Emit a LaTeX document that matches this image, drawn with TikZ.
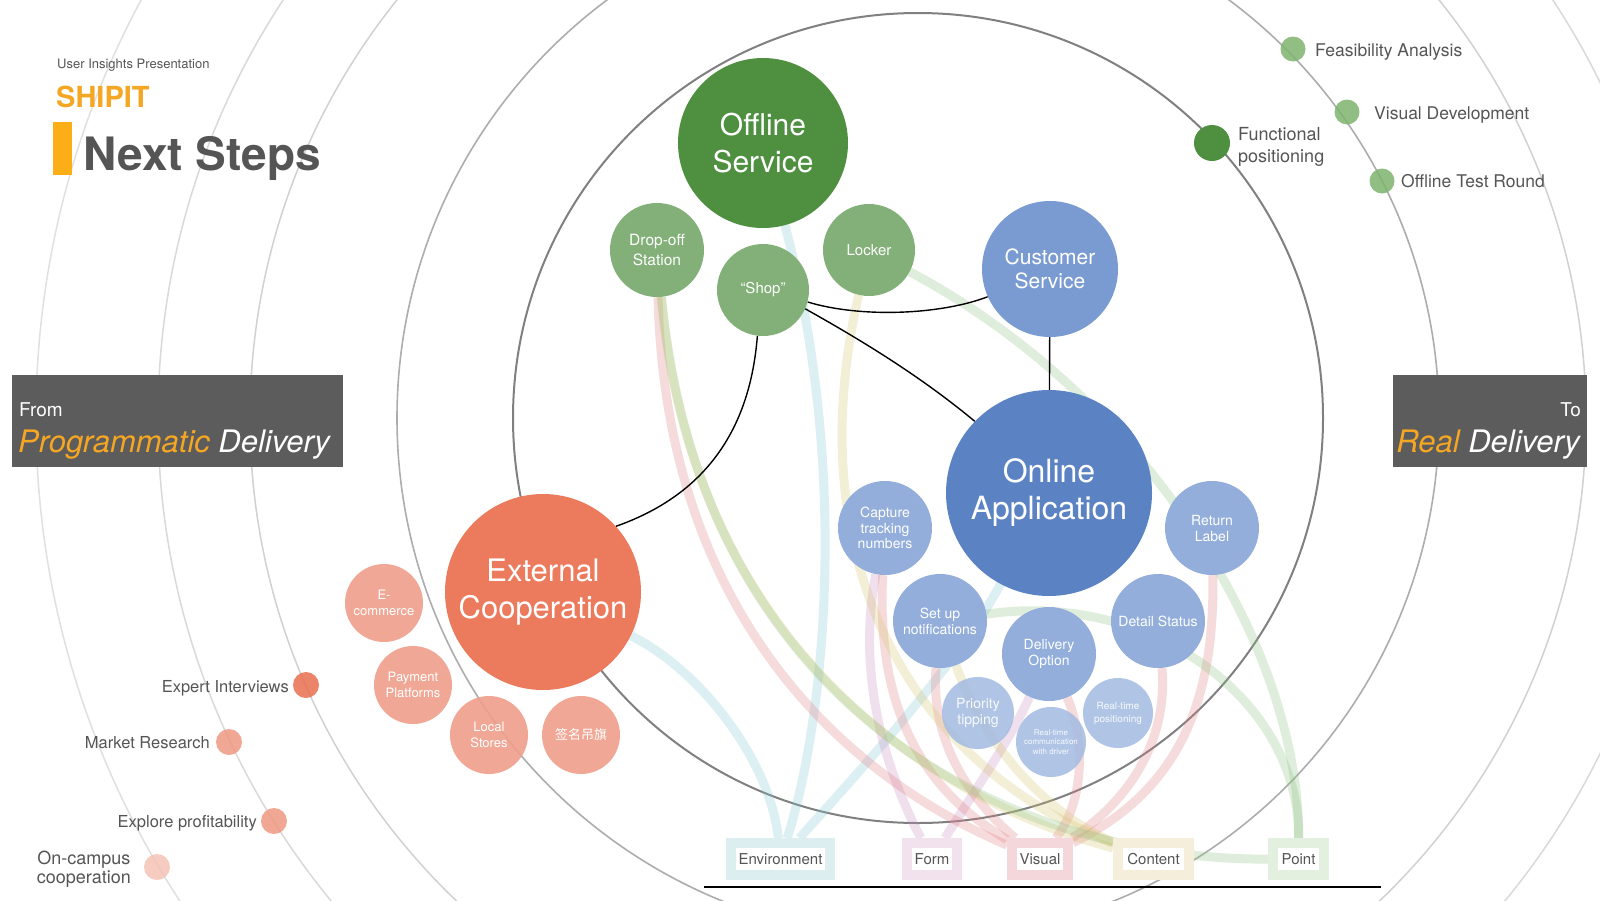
\documentclass[tikz,border=0pt]{standalone}
\usepackage{fontspec}
\setmainfont{TeX Gyre Heros}
\newfontfamily\cjkfont{Noto Sans CJK SC}
\newcommand{\fsz}[2]{\fontsize{#1pt}{#2pt}\selectfont}
\definecolor{dgreen}{HTML}{4E8F40}
\definecolor{lgreen}{HTML}{83B079}
\definecolor{dotgreen}{HTML}{7DB36E}
\definecolor{csblue}{HTML}{7A9BD2}
\definecolor{oablue}{HTML}{5B83C4}
\definecolor{sblue}{HTML}{93AEDB}
\definecolor{xblue}{HTML}{A3BBE2}
\definecolor{ecred}{HTML}{EC7A5C}
\definecolor{sred}{HTML}{F09E8A}
\definecolor{dotred}{HTML}{E96F4F}
\definecolor{dotsalmon}{HTML}{EE9882}
\definecolor{dotpale}{HTML}{F5C3B5}
\definecolor{orng}{HTML}{F5A623}
\definecolor{barorng}{HTML}{FBAE17}
\definecolor{boxgray}{HTML}{5C5C5C}
\definecolor{txtgray}{HTML}{555555}
\definecolor{ribC}{HTML}{7EC4CF}
\definecolor{ribF}{HTML}{C98BC0}
\definecolor{ribR}{HTML}{E07A80}
\definecolor{ribY}{HTML}{D6C46A}
\definecolor{ribG}{HTML}{8CC07E}
\definecolor{envc}{HTML}{DCEEF0}
\definecolor{formc}{HTML}{F2E2EE}
\definecolor{visc}{HTML}{F4D7DA}
\definecolor{contc}{HTML}{F4EEDA}
\definecolor{pointc}{HTML}{E3F0E0}
\pgfdeclarelayer{back0}
\pgfdeclarelayer{bg}
\pgfsetlayers{back0,bg,main}
\tikzset{
  bub/.style={circle, inner sep=0pt, text=white, align=center},
  rib/.style={line width=9pt, draw opacity=0.27},
  conn/.style={line width=1.4pt, draw=black},
  lab/.style={rectangle, line width=10pt, fill=white, inner sep=0pt, minimum height=32pt, text=txtgray, font=\fsz{15}{18}},
  dotn/.style={circle, inner sep=0pt, fill opacity=0.85},
  txt/.style={inner sep=0pt, text=txtgray},
}
\begin{document}
\begin{tikzpicture}[x=1pt,y=-1pt]
\clip (0,0) rectangle (1600,900);
\coordinate (ctr) at (918,418);
% ---------- nodes ----------
\node[bub, fill=dgreen, minimum size=170pt, font=\fsz{30}{37}] (offline) at (763,143) {Offline\\Service};
\node[bub, fill=lgreen, minimum size=94pt, font=\fsz{15.5}{19.5}] (dropoff) at (657,250) {Drop-off\\Station};
\node[bub, fill=lgreen, minimum size=92pt, font=\fsz{15}{18}] (shop) at (763,290) {“Shop”};
\node[bub, fill=lgreen, minimum size=92pt, font=\fsz{15}{18}] (locker) at (869,250) {Locker};
\node[bub, fill=csblue, minimum size=136pt, font=\fsz{21}{24.5}] (cs) at (1050,269) {Customer\\Service};
\node[bub, fill=oablue, minimum size=206pt, font=\fsz{32}{37}] (online) at (1049,493) {Online\\Application};
\node[bub, fill=ecred, minimum size=196pt, font=\fsz{31}{36.5}] (ecoop) at (543,592) {External\\Cooperation};
\node[bub, fill=sred, fill opacity=0.9, text opacity=1, minimum size=78pt, font=\fsz{13}{15.5}] (ecom) at (384,603) {E-\\commerce};
\node[bub, fill=sred, fill opacity=0.9, text opacity=1, minimum size=78pt, font=\fsz{13}{16}] (pay) at (413,685) {Payment\\Platforms};
\node[bub, fill=sred, fill opacity=0.9, text opacity=1, minimum size=78pt, font=\fsz{13}{15.5}] (local) at (489,735) {Local\\Stores};
\node[bub, fill=sred, fill opacity=0.9, text opacity=1, minimum size=78pt, font=\cjkfont\fsz{13}{15.5}] (flag) at (581,735) {签名吊旗};
\node[bub, fill=sblue, minimum size=94pt, font=\fsz{14}{15.5}] (capture) at (885,528) {Capture\\tracking\\numbers};
\node[bub, fill=sblue, minimum size=94pt, font=\fsz{14}{16}] (return) at (1212,528) {Return\\Label};
\node[bub, fill=sblue, minimum size=94pt, font=\fsz{14}{16}] (setup) at (940,621) {Set up\\notifications};
\node[bub, fill=sblue, minimum size=94pt, font=\fsz{14}{16}] (detail) at (1158,621) {Detail Status};
\node[bub, fill=sblue, minimum size=94pt, font=\fsz{14}{16}] (delivery) at (1049,654) {Delivery\\Option};
\node[bub, fill=xblue, fill opacity=0.85, text opacity=0.9, minimum size=72pt, font=\fsz{14}{16}] (priority) at (978,713) {Priority\\tipping};
\node[bub, fill=xblue, fill opacity=0.85, text opacity=0.9, minimum size=70pt, font=\fsz{8}{9.5}] (rtcomm) at (1051,742) {Real-time\\communication\\with driver};
\node[bub, fill=xblue, fill opacity=0.85, text opacity=0.9, minimum size=70pt, font=\fsz{10}{13}] (rtpos) at (1118,713) {Real-time\\positioning};
% bottom labels
\node[lab, draw=envc, minimum width=99pt] (env) at (780.5,859) {Environment};
\node[lab, draw=formc, minimum width=50pt] (form) at (932,859) {Form};
\node[lab, draw=visc, minimum width=56pt] (visual) at (1040,859) {Visual};
\node[lab, draw=contc, minimum width=71pt] (content) at (1153.5,859) {Content};
\node[lab, draw=pointc, minimum width=51pt] (point) at (1298.5,859) {Point};
% ---------- background circles ----------
\begin{pgfonlayer}{back0}
\fill[white] (0,0) rectangle (1600,900);
\draw[draw=black!12, line width=1.5pt] (ctr) circle[radius=882pt];
\draw[draw=black!15, line width=1.5pt] (ctr) circle[radius=760pt];
\draw[draw=black!18, line width=1.5pt] (ctr) circle[radius=668pt];
\draw[draw=black!32, line width=1.6pt] (ctr) circle[radius=521pt];
\draw[draw=black!50, line width=2pt] (ctr) circle[radius=405pt];
\end{pgfonlayer}
% ---------- ribbons and connectors ----------
\begin{pgfonlayer}{bg}
\draw[rib, draw=ribC] (offline) .. controls (850,470) and (825,720) .. (env);
\draw[rib, draw=ribC] (ecoop) .. controls (700,670) and (770,760) .. (env);
\draw[rib, draw=ribC] (online) .. controls (960,660) and (870,760) .. (env);
\draw[rib, draw=ribF] (capture) .. controls (855,680) and (890,780) .. (form);
\draw[rib, draw=ribF] (delivery) .. controls (1010,740) and (975,790) .. (form);
\draw[rib, draw=ribR] (dropoff) .. controls (665,600) and (830,770) .. (visual);
\draw[rib, draw=ribR] (capture) .. controls (875,730) and (940,800) .. (visual);
\draw[rib, draw=ribR] (setup) .. controls (930,740) and (970,800) .. (visual);
\draw[rib, draw=ribR] (delivery) .. controls (1085,740) and (1085,800) .. (visual);
\draw[rib, draw=ribR] (detail) .. controls (1168,740) and (1130,800) .. (visual);
\draw[rib, draw=ribR] (return) .. controls (1215,700) and (1180,790) .. (visual);
\draw[rib, draw=ribY] (dropoff) .. controls (690,620) and (900,790) .. (content);
\draw[rib, draw=ribY] (locker) .. controls (800,550) and (900,760) .. (content);
\draw[rib, draw=ribY] (setup) .. controls (990,760) and (1060,820) .. (content);
\draw[rib, draw=ribG] (dropoff) .. controls (700,700) and (1000,860) .. (point);
\draw[rib, draw=ribG] (locker) .. controls (1150,400) and (1300,650) .. (point);
\draw[rib, draw=ribG] (setup) .. controls (1150,590) and (1300,700) .. (point);
% black connectors
\draw[conn] (shop.-15) .. controls (860,318) and (940,315) .. (cs.-156);
\draw[conn] (shop.-24) .. controls (870,345) and (925,380) .. (online.136);
\draw[conn] (shop.-97) .. controls (750,430) and (705,495) .. (ecoop.42);
\draw[conn] (cs) -- (online);
\end{pgfonlayer}
% bottom rule
\coordinate (ruleL) at (704,887);
\coordinate (ruleR) at (1381,887);
\draw[line width=2pt] (ruleL) -- (ruleR);
% ---------- title ----------
\node[txt, anchor=base west, font=\fsz{13}{15}] (subtitle) at (57,68) {User Insights Presentation};
\node[inner sep=0pt, anchor=base west, text=orng, font=\bfseries\fsz{29}{32}] (shipit) at (56,107) {SHIPIT};
\fill[barorng] (53,122) rectangle (72,175);
\node[inner sep=0pt, anchor=base west, text=txtgray, font=\bfseries\fsz{46}{50}] (title) at (83,170) {Next Steps};
% ---------- side boxes ----------
\node[fill=boxgray, minimum width=331pt, minimum height=92pt, inner sep=0pt, anchor=north west] (frombox) at (12,375) {};
\node[inner sep=0pt, anchor=base west, text=white, font=\fsz{19}{22}] (fromtxt) at (19,416) {From};
\node[inner sep=0pt, anchor=base west, font=\itshape\fsz{31}{34}] (progtxt) at (18,452) {\textcolor{orng}{Programmatic} \textcolor{white}{Delivery}};
\node[fill=boxgray, minimum width=194pt, minimum height=92pt, inner sep=0pt, anchor=north west] (tobox) at (1393,375) {};
\node[inner sep=0pt, anchor=base east, text=white, font=\fsz{19}{22}] (totxt) at (1581,416) {To};
\node[inner sep=0pt, anchor=base east, font=\itshape\fsz{31}{34}] (realtxt) at (1580,452) {\textcolor{orng}{Real} \textcolor{white}{Delivery}};
% ---------- top-right milestones ----------
\node[dotn, fill=dotgreen, minimum size=25pt] (fdot) at (1293,49) {};
\node[txt, anchor=base west, font=\fsz{17.5}{21}] (ftxt) at (1315,56) {Feasibility Analysis};
\node[dotn, fill=dotgreen, minimum size=25pt] (vdot) at (1347,112) {};
\node[txt, anchor=base west, font=\fsz{17.5}{21}] (vtxt) at (1374,119) {Visual Development};
\node[dotn, fill=dotgreen, minimum size=25pt] (odot) at (1382,181) {};
\node[txt, anchor=base west, font=\fsz{17.5}{21}] (otxt) at (1401,187) {Offline Test Round};
\node[circle, inner sep=0pt, fill=dgreen, minimum size=36pt] (fpdot) at (1212,143) {};
\node[txt, anchor=west, align=left, font=\fsz{18}{22}] (fptxt) at (1238,147) {Functional\\positioning};
% ---------- bottom-left milestones ----------
\node[dotn, fill=dotred, minimum size=26pt] (edot) at (306,685) {};
\node[txt, anchor=base east, font=\fsz{16.5}{20}] (etxt) at (289,692) {Expert Interviews};
\node[dotn, fill=dotsalmon, minimum size=26pt] (mdot) at (229,742) {};
\node[txt, anchor=base east, font=\fsz{16.5}{20}] (mtxt) at (210,748) {Market Research};
\node[dotn, fill=dotsalmon, minimum size=26pt] (xdot) at (274,821) {};
\node[txt, anchor=base east, font=\fsz{16.5}{20}] (xtxt) at (257,827) {Explore profitability};
\node[dotn, fill=dotpale, minimum size=26pt] (cdot) at (157,867) {};
\node[txt, anchor=east, align=center, font=\fsz{18}{19.5}] (ctxt) at (131,869) {On-campus\\cooperation};
\end{tikzpicture}
\end{document}
